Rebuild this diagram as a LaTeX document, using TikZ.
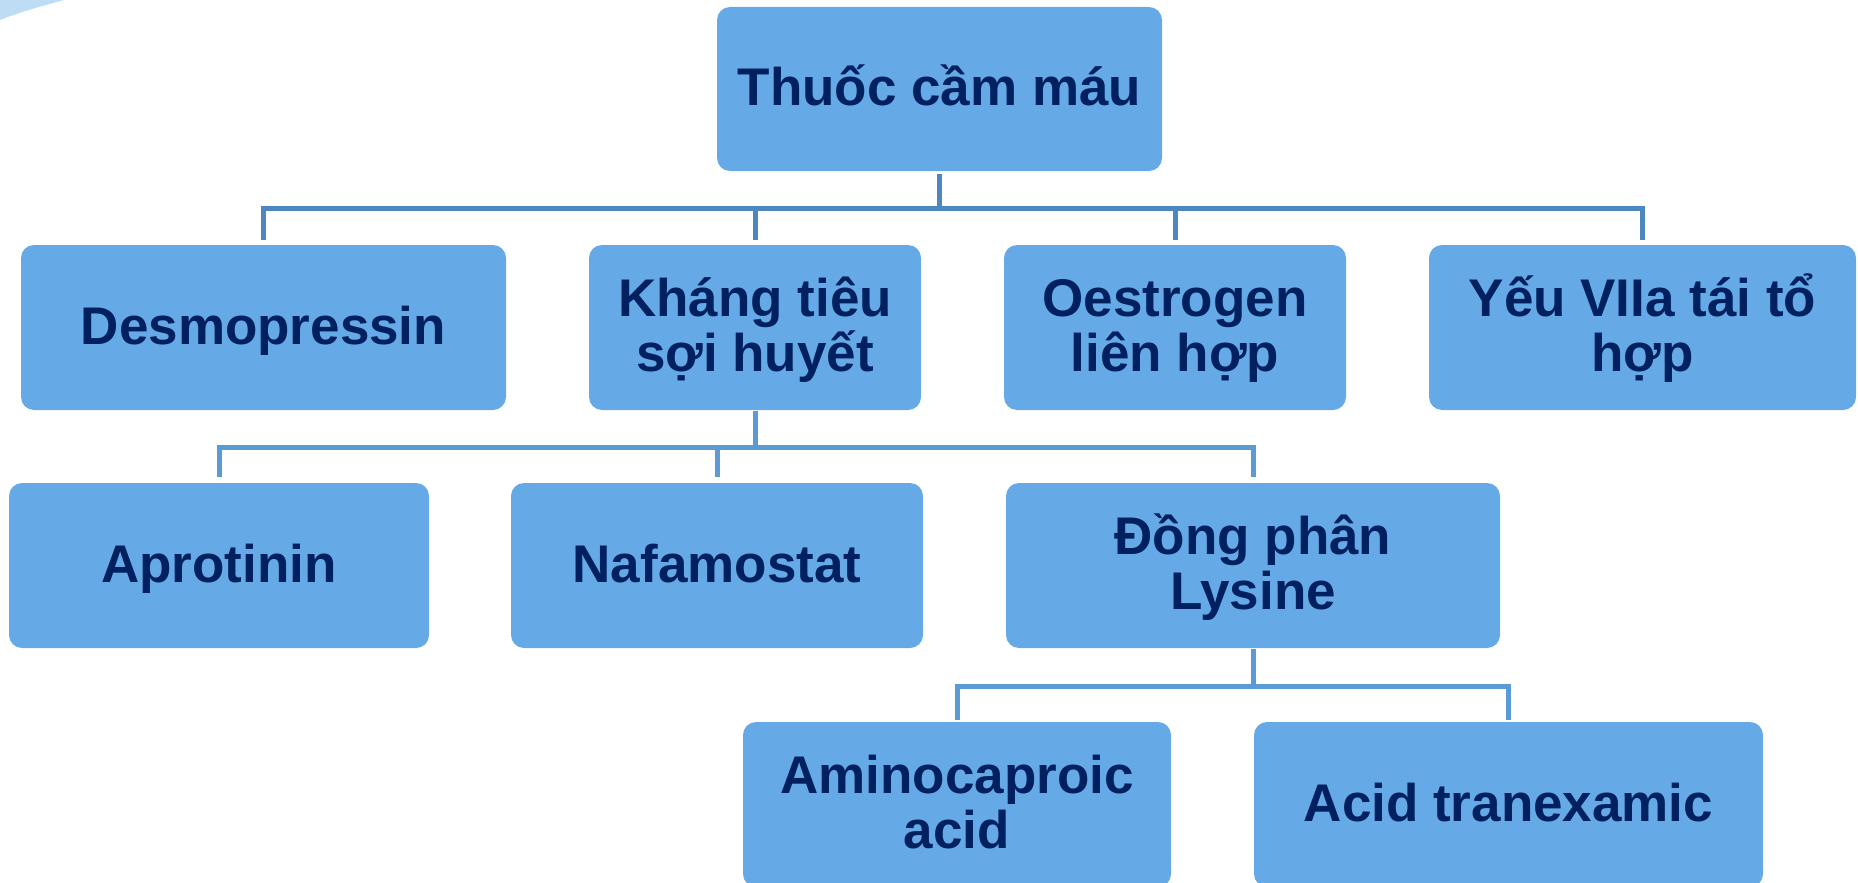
\documentclass[tikz,border=0pt]{standalone}
\usepackage{fontspec}
\setmainfont{Liberation Sans}
\definecolor{boxfill}{HTML}{65AAE7}
\definecolor{boxtext}{HTML}{002060}
\definecolor{linkdark}{HTML}{4D87BF}
\definecolor{linklight}{HTML}{5B9BD5}
\definecolor{cornerblue}{HTML}{BFDCF5}
% one text line with a fixed ascent and descent, so accents and descenders
% neither move the text nor stretch the line spacing
\newcommand{\tline}[1]{\rule[-11pt]{0pt}{55pt}\smash{#1}}
\tikzset{
  drug/.style={rectangle, rounded corners=13pt, fill=boxfill, draw=none,
    text=boxtext, align=center, inner sep=0pt,
    font=\fontsize{53}{55}\selectfont\bfseries},
  linkA/.style={draw=linkdark, line width=5pt, line join=miter},
  linkB/.style={draw=linklight, line width=5pt, line join=miter}
}
\begin{document}
\begin{tikzpicture}[x=1pt,y=-1pt]
\useasboundingbox (0,0) rectangle (1858,883);
\clip (0,0) rectangle (1858,883);

% corner ornament
\fill[cornerblue] (0,0) -- (64,0) .. controls (42,6) and (20,12) .. (0,20) -- cycle;

% root
\node[drug, minimum width=445pt, minimum height=164pt] (root) at (939.5,89) {\tline{Thuốc cầm máu}};

% first level
\node[drug, minimum width=485pt, minimum height=165pt] (desmo) at (263.5,327.5) {\tline{Desmopressin}};
\node[drug, minimum width=332pt, minimum height=165pt] (khang) at (755,327.5) {\tline{Kháng tiêu}\\\tline{sợi huyết}};
\node[drug, minimum width=342pt, minimum height=165pt] (oestro) at (1175,327.5) {\tline{Oestrogen}\\\tline{liên hợp}};
\node[drug, minimum width=427pt, minimum height=165pt] (yeu) at (1642.5,327.5) {\tline{Yếu VIIa tái tổ}\\\tline{hợp}};

% second level
\node[drug, minimum width=420pt, minimum height=165pt] (apro) at (219,565.5) {\tline{Aprotinin}};
\node[drug, minimum width=412pt, minimum height=165pt] (nafa) at (717,565.5) {\tline{Nafamostat}};
\node[drug, minimum width=494pt, minimum height=165pt] (dong) at (1253,565.5) {\tline{Đồng phân}\\\tline{Lysine}};

% third level
\node[drug, minimum width=428pt, minimum height=165pt] (amino) at (957,804.5) {\tline{Aminocaproic}\\\tline{acid}};
\node[drug, minimum width=509pt, minimum height=165pt] (trane) at (1508.5,804.5) {\tline{Acid tranexamic}};

% bus heights
\coordinate (busA) at (0,208);
\coordinate (busB) at (0,447);
\coordinate (busC) at (0,686);

% root -> first level
\foreach \c in {desmo,khang,oestro,yeu}
  \draw[linkA, shorten <=3pt, shorten >=5pt] (root.south) -- (root.south |- busA) -| (\c.north);

% Kháng tiêu sợi huyết -> second level
\foreach \c in {apro,nafa,dong}
  \draw[linkB, shorten <=1pt, shorten >=6pt] (khang.south) -- (khang.south |- busB) -| (\c.north);

% Đồng phân Lysine -> third level
\foreach \c in {amino,trane}
  \draw[linkB, shorten <=1pt, shorten >=2pt] (dong.south) -- (dong.south |- busC) -| (\c.north);
\end{tikzpicture}
\end{document}
